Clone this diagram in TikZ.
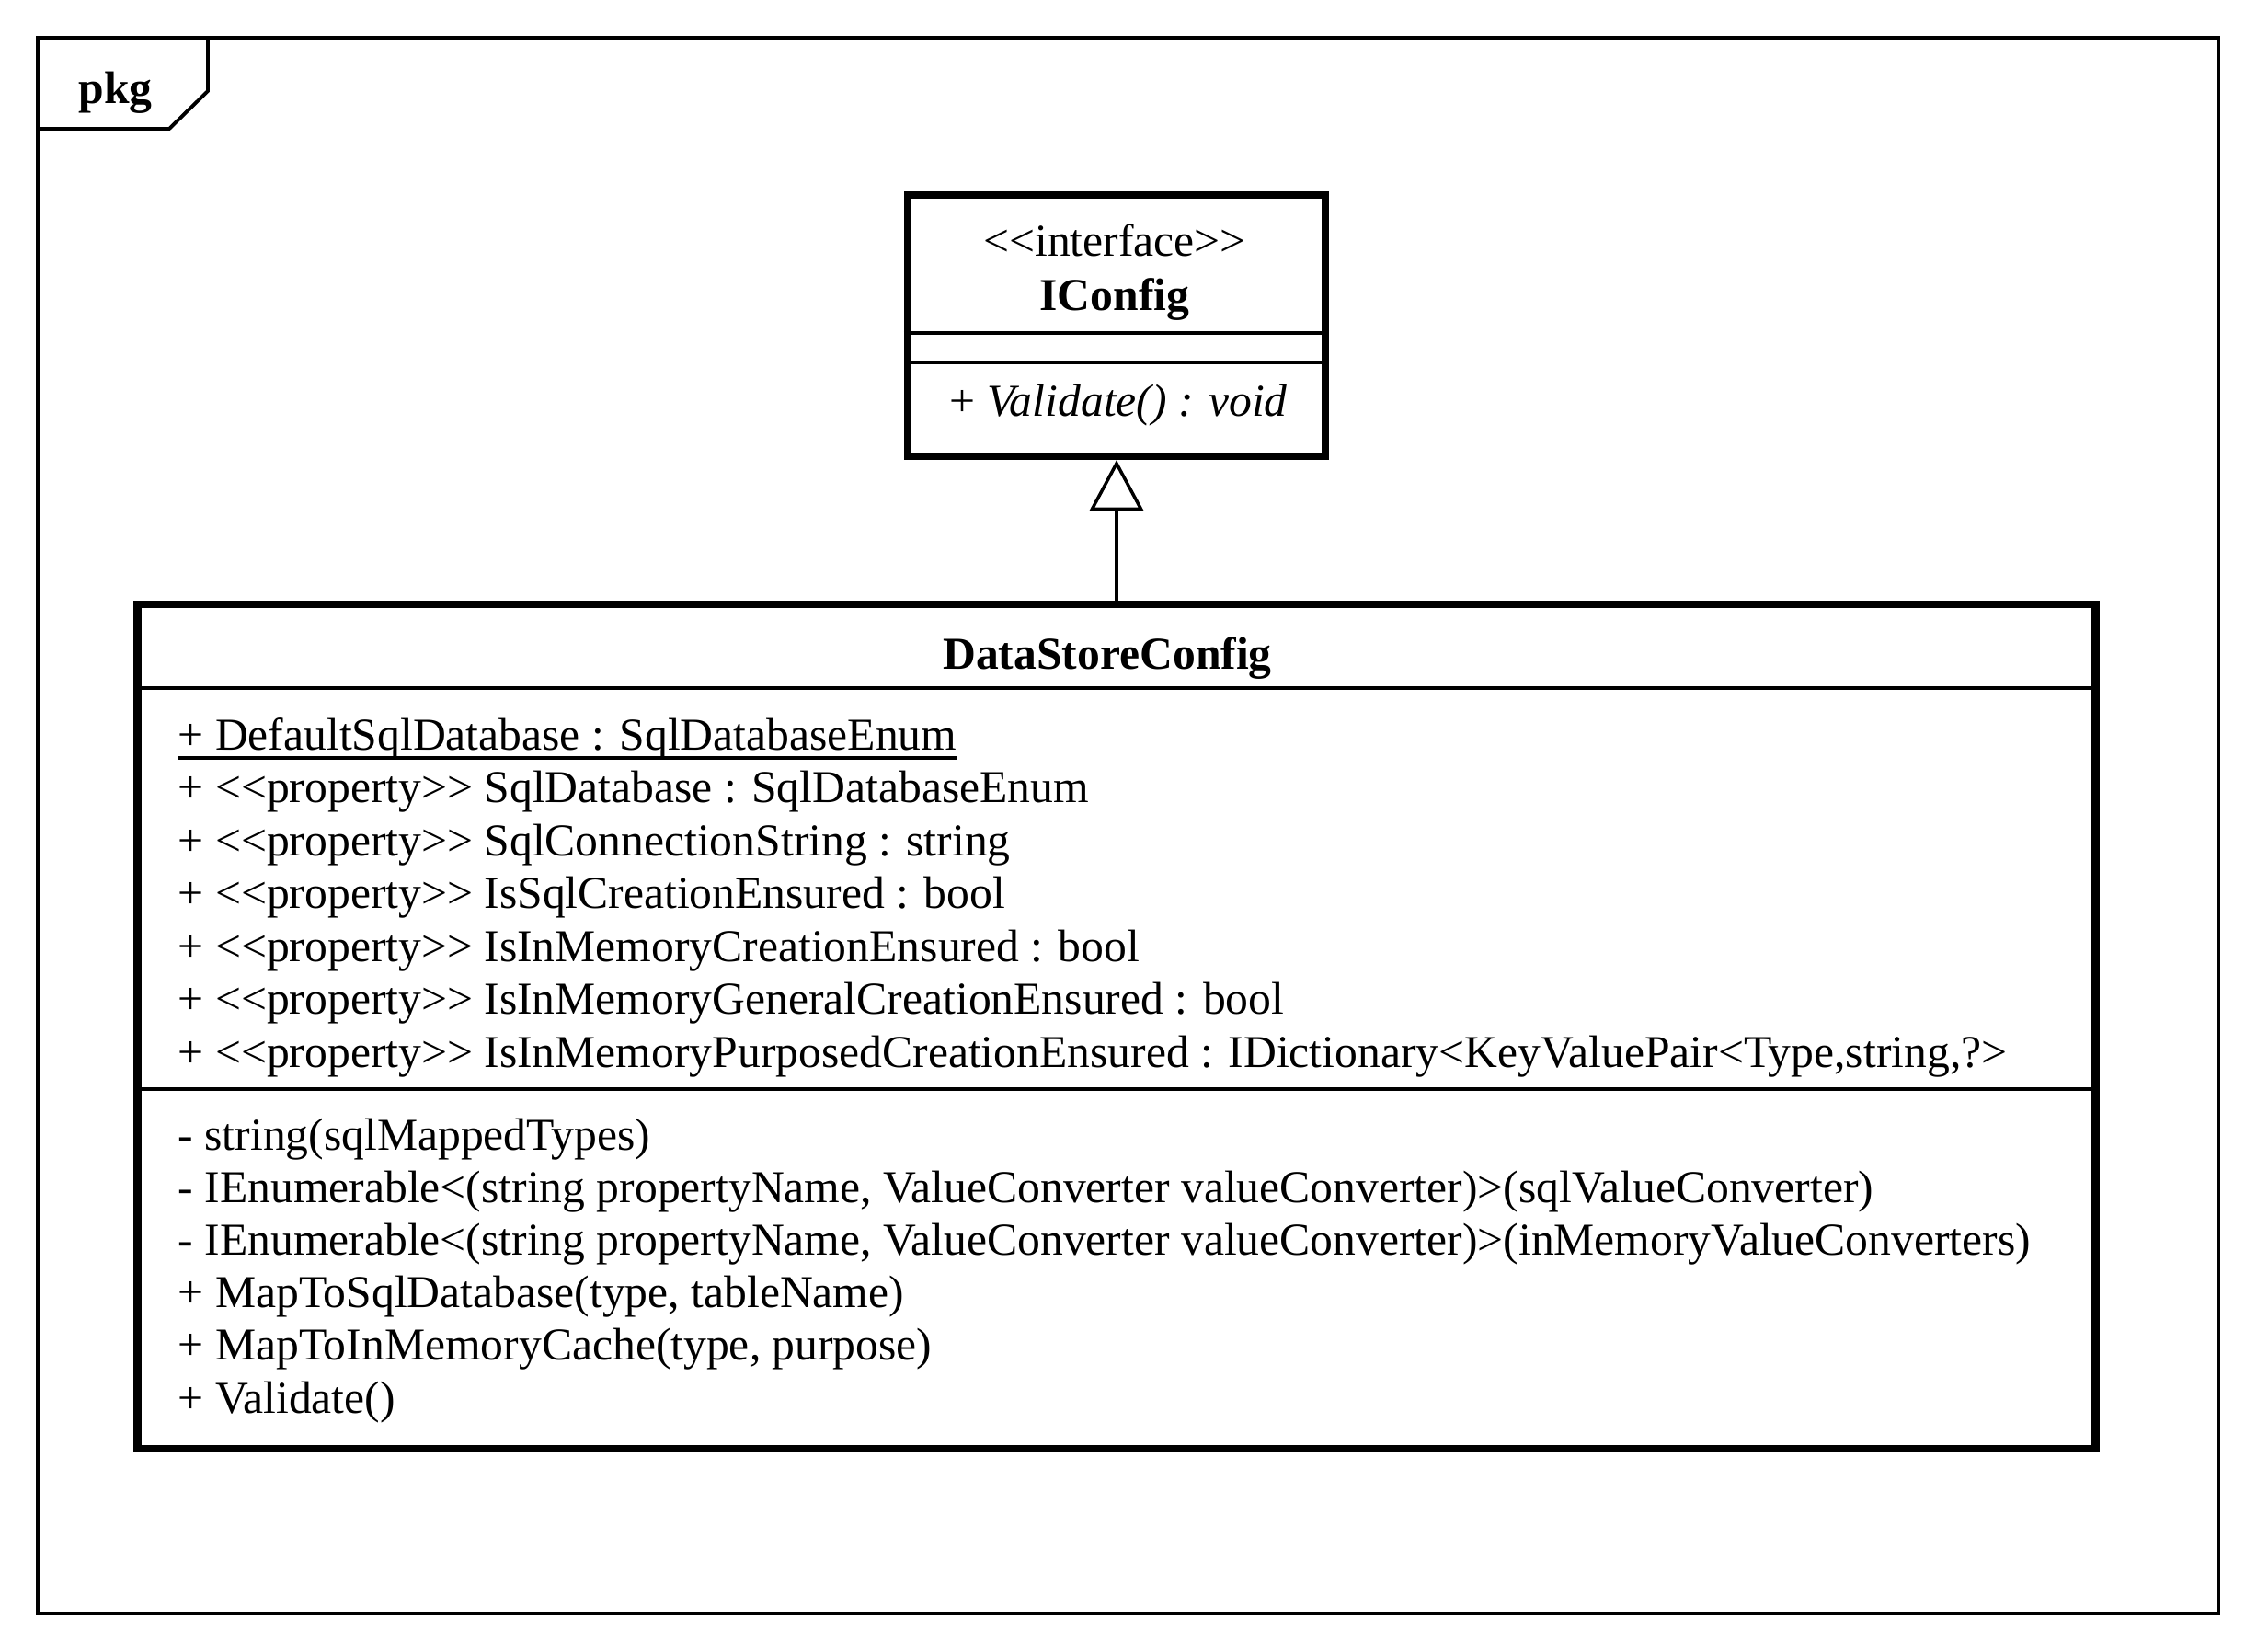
\documentclass[tikz,border=0pt]{standalone}
\usepackage{fontspec}
\setmainfont{Liberation Serif}[Ligatures=TeXOff]
\usetikzlibrary{arrows.meta}
\newcommand{\umlfont}{\fontsize{14.12}{16.5}\selectfont}

\begin{document}
\begin{tikzpicture}[font=\umlfont, >=Stealth,
    classbox/.style={draw, line width=2.3pt, inner sep=0pt},
    member/.style={anchor=base west, inner sep=0pt},
    title/.style={anchor=base, inner sep=0pt, font=\umlfont\bfseries},
    sep/.style={line width=1.1pt},
    realize/.style={line width=1pt, -{Triangle[open, width=0.58cm, length=0.55cm]}}]
  \useasboundingbox (0,0) rectangle (24.54,-17.95);

  % Package frame with tab
  \draw[line width=1.1pt] (0.41,-0.41) rectangle (24.12,-17.54);
  \draw[line width=1.1pt] (2.26,-0.41) -- (2.26,-0.99) -- (1.84,-1.40) -- (0.41,-1.40);
  \node[member, font=\umlfont\bfseries] (pkg) at (0.85,-1.12) {pkg};

  % Interface IConfig
  \node[classbox, minimum width=4.54cm, minimum height=2.84cm] (iconfig) at (12.14,-3.54) {};
  \draw[sep] (iconfig.west |- 0,-3.62) -- (iconfig.east |- 0,-3.62);
  \draw[sep] (iconfig.west |- 0,-3.94) -- (iconfig.east |- 0,-3.94);
  \node[anchor=base, inner sep=0pt] (stereo) at (12.12,-2.78) {<<interface>>};
  \node[title] (iname) at (12.12,-3.37) {IConfig};
  \node[member] (iop) at (10.32,-4.52) {+ \textit{Validate() : void}};

  % Class DataStoreConfig
  \node[classbox, minimum width=21.29cm, minimum height=9.18cm] (dsc) at (12.14,-11.16) {};
  \draw[sep] (dsc.west |- 0,-7.48) -- (dsc.east |- 0,-7.48);
  \draw[sep] (dsc.west |- 0,-11.84) -- (dsc.east |- 0,-11.84);
  \node[title] (dname) at (12.04,-7.27) {DataStoreConfig};

  % Attributes
  \node[member] (a1) at (1.93,-8.15) {+ DefaultSqlDatabase : SqlDatabaseEnum};
  \draw[line width=1.1pt] ([yshift=-0.09cm]a1.base west) -- ([yshift=-0.09cm]a1.base east);
  \node[member] (a2) at (1.93,-8.725) {+ <<property>> SqlDatabase : SqlDatabaseEnum};
  \node[member] (a3) at (1.93,-9.30) {+ <<property>> SqlConnectionString : string};
  \node[member] (a4) at (1.93,-9.875) {+ <<property>> IsSqlCreationEnsured : bool};
  \node[member] (a5) at (1.93,-10.45) {+ <<property>> IsInMemoryCreationEnsured : bool};
  \node[member] (a6) at (1.93,-11.025) {+ <<property>> IsInMemoryGeneralCreationEnsured : bool};
  \node[member] (a7) at (1.93,-11.60) {+ <<property>> IsInMemoryPurposedCreationEnsured : IDictionary<KeyValuePair<Type,string,?>};

  % Operations
  \node[member] (o1) at (1.93,-12.50) {- string(sqlMappedTypes)};
  \node[member] (o2) at (1.93,-13.072) {- IEnumerable<(string propertyName, ValueConverter valueConverter)>(sqlValueConverter)};
  \node[member] (o3) at (1.93,-13.644) {- IEnumerable<(string propertyName, ValueConverter valueConverter)>(inMemoryValueConverters)};
  \node[member] (o4) at (1.93,-14.216) {+ MapToSqlDatabase(type, tableName)};
  \node[member] (o5) at (1.93,-14.788) {+ MapToInMemoryCache(type, purpose)};
  \node[member] (o6) at (1.93,-15.36) {+ Validate()};

  % Realization
  \draw[realize] (dsc.north) -- (iconfig.south);
\end{tikzpicture}
\end{document}
